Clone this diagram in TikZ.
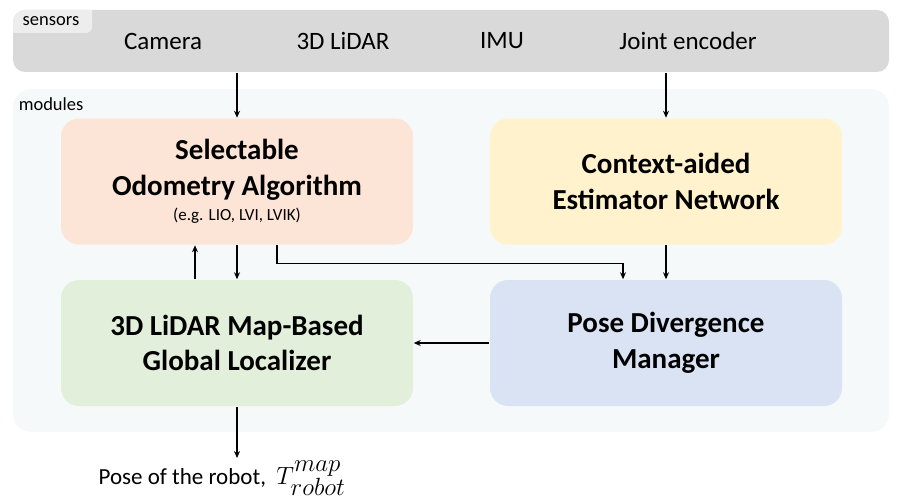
\documentclass[tikz,border=0pt]{standalone}
\usepackage{fontspec}
\setmainfont{Carlito}
\usetikzlibrary{arrows.meta}
\definecolor{bandgray}{HTML}{D9D9D9}
\definecolor{tabgray}{HTML}{EDEDED}
\definecolor{modbg}{HTML}{F5F9FA}
\definecolor{odocol}{HTML}{FCE4D6}
\definecolor{ctxcol}{HTML}{FFF2CC}
\definecolor{loccol}{HTML}{E2EFDA}
\definecolor{pdmcol}{HTML}{DAE3F3}
\tikzset{
  module/.style={rounded corners=18pt,minimum width=352pt,minimum height=126pt,
    align=center,font=\fontsize{29}{35.5}\selectfont\bfseries},
  sensortxt/.style={font=\fontsize{25}{30}\selectfont},
  tag/.style={font=\fontsize{18.5}{21}\selectfont,inner sep=0pt},
}
\begin{document}
\begin{tikzpicture}[x=1pt,y=-1pt,line cap=butt,line width=1.5pt,>={Stealth[length=7pt,width=6pt]}]
  \useasboundingbox (0,0) rectangle (902,503);
  % groups
  \node[fill=bandgray,rounded corners=12pt,minimum width=876pt,minimum height=62pt] (sensors) at (451,41) {};
  \node[fill=modbg,rounded corners=18pt,minimum width=876pt,minimum height=343pt] (modules) at (451,260.5) {};
  \begin{scope}
    \clip[rounded corners=12pt] (13,10) rectangle (889,72);
    \fill[tabgray] (13,10) -- (92,10) -- (92,27) arc[start angle=0,end angle=90,radius=6] -- (13,33) -- cycle;
  \end{scope}
  \node[tag,anchor=west] (sensorstag) at (22,21) {sensors};
  \node[tag,anchor=west] (modulestag) at (18,104) {modules};
  % sensors
  \node[sensortxt] (cam) at (163,41) {Camera};
  \node[sensortxt] (lidar) at (343,41) {3D LiDAR};
  \node[sensortxt] (imu) at (502,41) {IMU};
  \node[sensortxt] (joint) at (688,41) {Joint encoder};
  % modules
  \node[module,fill=odocol] (odo) at (237,181.5) {Selectable\\Odometry Algorithm\\[-10pt]{\fontsize{17}{20}\selectfont\mdseries (e.g. LIO, LVI, LVIK)}};
  \node[module,fill=ctxcol] (ctx) at (666,181.5) {Context-aided\\Estimator Network};
  \node[module,fill=loccol] (loc) at (237,343) {3D LiDAR Map-Based\\Global Localizer};
  \node[module,fill=pdmcol] (pdm) at (666,343) {Pose Divergence\\Manager};
  \node[font=\fontsize{23}{26}\selectfont,inner sep=2pt] (out) at (222,478) {Pose of the robot, \ {\fontsize{33}{36}\selectfont$T^{map}_{robot}$}};
  % arrows
  \draw[->] (odo.north |- sensors.south) -- (odo.north);
  \draw[->] (ctx.north |- sensors.south) -- (ctx.north);
  \draw[->] ([xshift=-42pt]loc.north) -- ([xshift=-42pt]odo.south);
  \draw[->] (odo.south) -- (loc.north);
  \draw[->] ([xshift=40pt]odo.south) -- ++(0,18) -| ([xshift=-43pt]pdm.north);
  \draw[->] (ctx) -- (pdm);
  \draw[->] (pdm) -- (loc);
  \draw[->] (loc.south) -- (loc.south |- out.north);
\end{tikzpicture}
\end{document}
